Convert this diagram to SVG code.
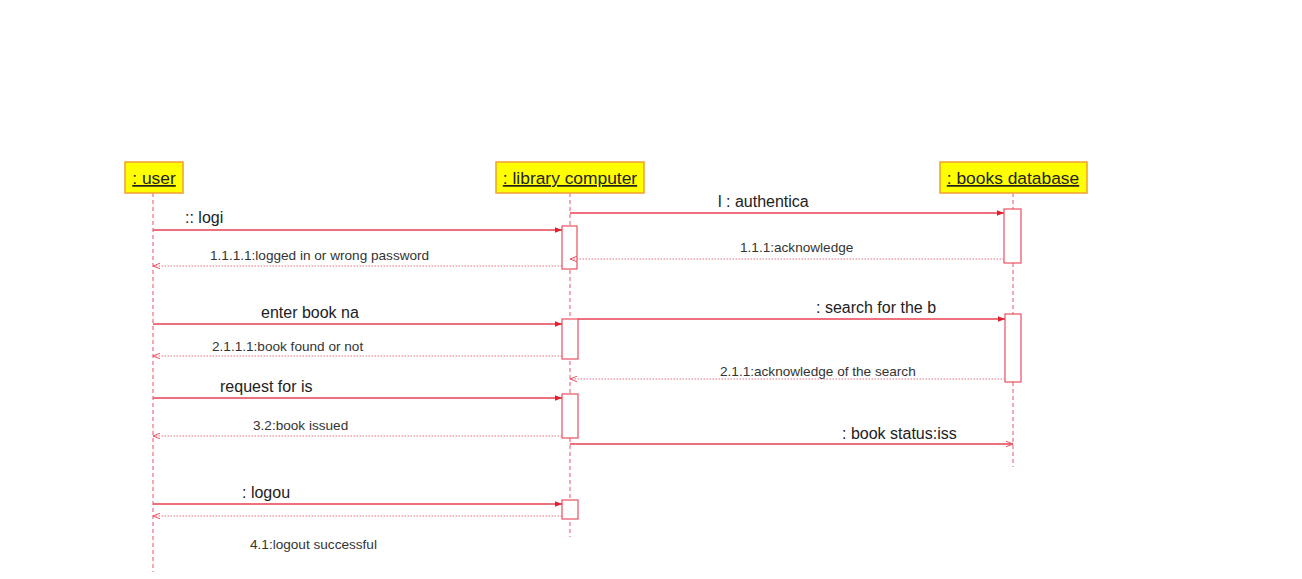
<svg xmlns="http://www.w3.org/2000/svg" width="1302" height="579" viewBox="0 0 1302 579">
<defs>
<style>
.hd{fill:#ffff00;stroke:#f0a030;stroke-width:1.5}
.ht{font-family:"Liberation Sans",Arial,sans-serif;font-size:17.4px;fill:#222;text-decoration:underline}
.ll{stroke:#f07080;stroke-width:1.2;stroke-dasharray:4 3;fill:none}
.act{fill:#fff;stroke:#e85060;stroke-width:1.2}
.msg{stroke:#e84050;stroke-width:1.3;fill:none}
.ret{stroke:#f07080;stroke-width:1.2;stroke-dasharray:1.5 1.5;fill:none}
.lb{font-family:"Liberation Sans",Arial,sans-serif;font-size:16px;fill:#222}
.sl{font-family:"Liberation Sans",Arial,sans-serif;font-size:13.6px;fill:#333}
</style>
<marker id="fa" viewBox="0 0 10 10" refX="10" refY="5" markerWidth="7" markerHeight="7" orient="auto" markerUnits="userSpaceOnUse">
<path d="M0,1 L10,5 L0,9 z" fill="#e02030"/>
</marker>
<marker id="oa" viewBox="0 0 10 10" refX="10" refY="5" markerWidth="7" markerHeight="7" orient="auto" markerUnits="userSpaceOnUse">
<path d="M0,1 L10,5 L0,9" fill="none" stroke="#e85060" stroke-width="1.4"/>
</marker>
</defs>
<rect width="1302" height="579" fill="#fff"/>

<g id="user">
<line class="ll" x1="153" y1="193" x2="153" y2="572"/>
<rect class="hd" x="125" y="162" width="58" height="31"/>
<text class="ht" x="154" y="184" text-anchor="middle">: user</text>
</g>

<g id="library_computer">
<line class="ll" x1="570" y1="193" x2="570" y2="537"/>
<rect class="hd" x="496" y="162" width="148" height="31"/>
<text class="ht" x="570" y="184" text-anchor="middle">: library computer</text>
<rect class="act" x="562" y="226" width="15" height="43"/>
<rect class="act" x="562" y="319" width="16" height="40"/>
<rect class="act" x="562" y="394" width="16" height="44"/>
<rect class="act" x="562" y="500" width="16" height="19"/>
</g>

<g id="books_database">
<line class="ll" x1="1013" y1="193" x2="1013" y2="467"/>
<rect class="hd" x="940" y="162" width="147" height="31"/>
<text class="ht" x="1013" y="184" text-anchor="middle">: books database</text>
<rect class="act" x="1004" y="209" width="17" height="54"/>
<rect class="act" x="1005" y="314" width="16" height="68"/>
</g>

<g id="connectors">
<line class="msg" x1="153" y1="230" x2="562" y2="230" marker-end="url(#fa)"/>
<text class="lb" x="185" y="223">:: logi</text>

<line class="msg" x1="570" y1="213" x2="1004" y2="213" marker-end="url(#fa)"/>
<text class="lb" x="718" y="207">l : authentica</text>

<line class="ret" x1="1004" y1="259" x2="570" y2="259" marker-end="url(#oa)"/>
<text class="sl" x="740" y="252">1.1.1:acknowledge</text>

<line class="ret" x1="562" y1="266" x2="153" y2="266" marker-end="url(#oa)"/>
<text class="sl" x="210" y="260">1.1.1.1:logged in or wrong password</text>

<line class="msg" x1="153" y1="324" x2="562" y2="324" marker-end="url(#fa)"/>
<text class="lb" x="261" y="318">enter book na</text>

<line class="msg" x1="578" y1="319" x2="1005" y2="319" marker-end="url(#fa)"/>
<text class="lb" x="816" y="313">: search for the b</text>

<line class="ret" x1="562" y1="356" x2="153" y2="356" marker-end="url(#oa)"/>
<text class="sl" x="212" y="351">2.1.1.1:book found or not</text>

<line class="ret" x1="1005" y1="379" x2="570" y2="379" marker-end="url(#oa)"/>
<text class="sl" x="720" y="376">2.1.1:acknowledge of the search</text>

<line class="msg" x1="153" y1="398" x2="562" y2="398" marker-end="url(#fa)"/>
<text class="lb" x="220" y="392">request for is</text>

<line class="ret" x1="562" y1="436" x2="153" y2="436" marker-end="url(#oa)"/>
<text class="sl" x="253" y="430">3.2:book issued</text>

<line class="msg" x1="570" y1="444" x2="1013" y2="444" marker-end="url(#oa)"/>
<text class="lb" x="842" y="439">: book status:iss</text>

<line class="msg" x1="153" y1="504" x2="562" y2="504" marker-end="url(#fa)"/>
<text class="lb" x="242" y="498">: logou</text>

<line class="ret" x1="562" y1="516" x2="153" y2="516" marker-end="url(#oa)"/>
<text class="sl" x="250" y="549">4.1:logout successful</text>
</g>
</svg>
